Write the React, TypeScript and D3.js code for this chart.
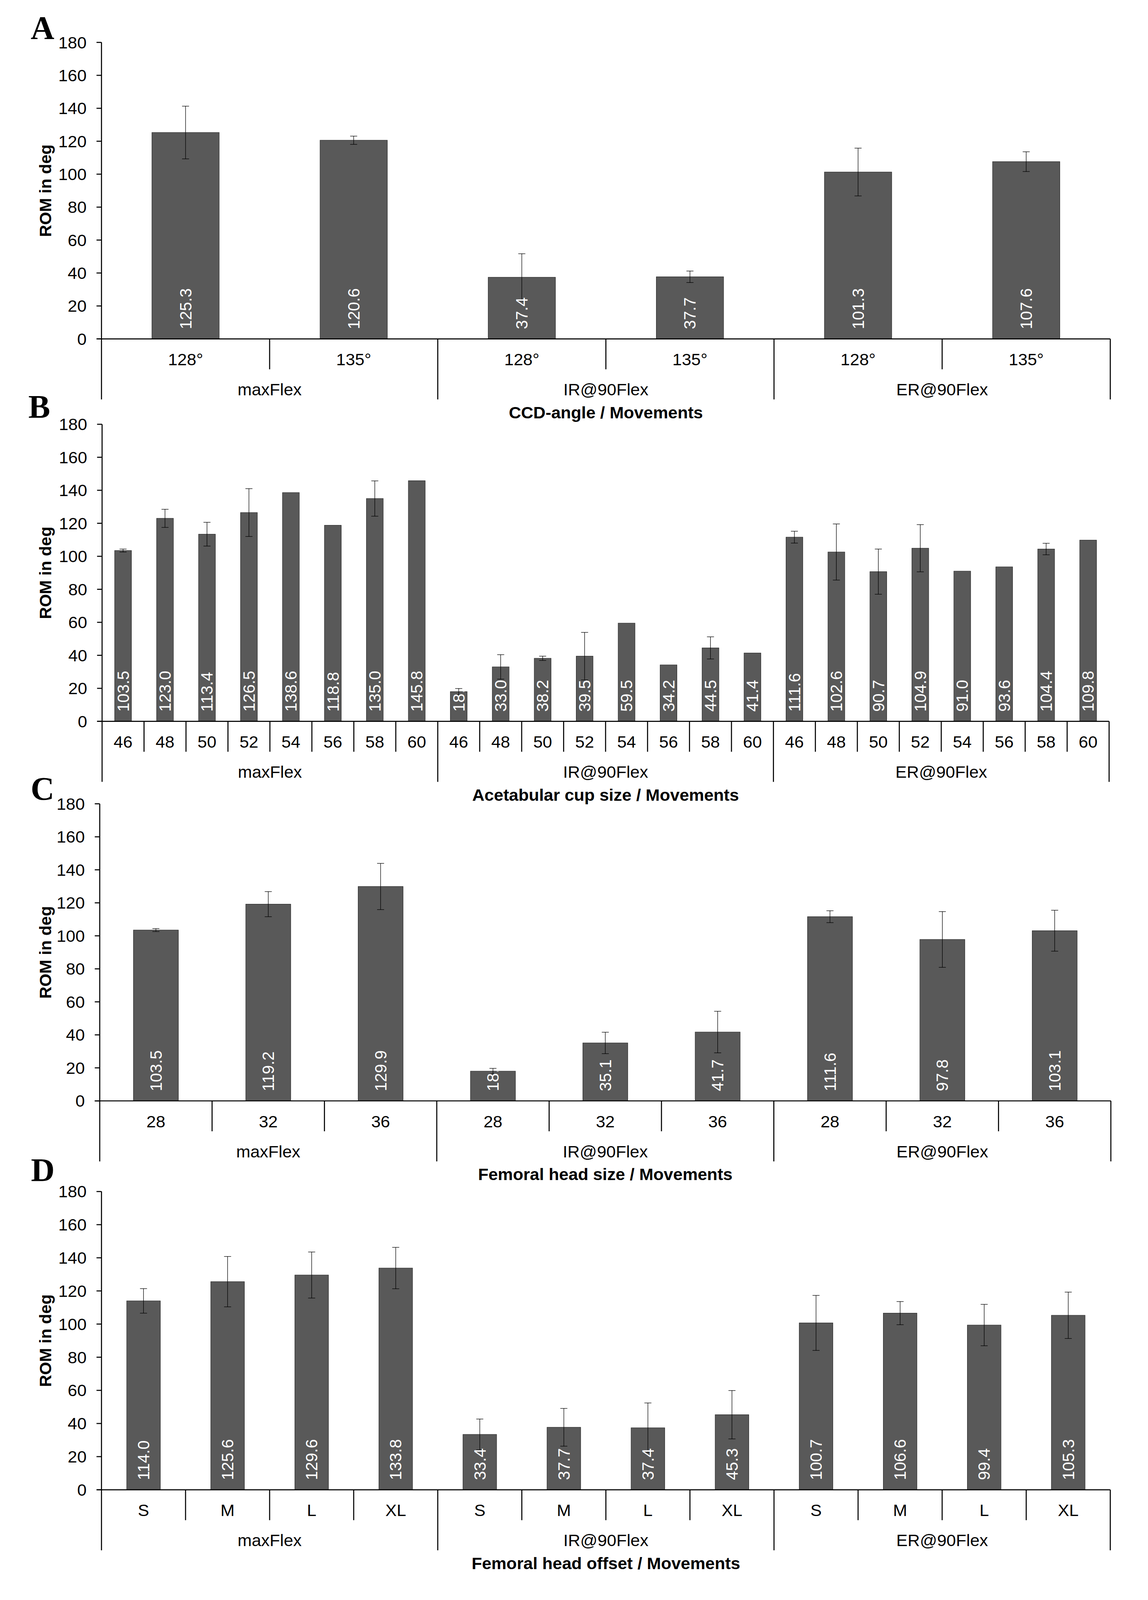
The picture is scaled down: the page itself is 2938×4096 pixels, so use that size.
import React from "react";
import * as d3 from "d3";

// shared
const groups = ["maxFlex", "IR@90Flex", "ER@90Flex"];
const yTicks = [0, 20, 40, 60, 80, 100, 120, 140, 160, 180];
const yTitle = "ROM in deg";

// A - CCD-angle
const ccdCats = ["128°", "135°"];
const ccdMean = [125.3, 120.6, 37.4, 37.7, 101.3, 107.6];
const ccdSd = [16.0, 2.5, 14.3, 3.5, 14.5, 6.0];

// B - acetabular cup size
const cupCats = ["46", "48", "50", "52", "54", "56", "58", "60"];
const cupMean = [
  103.5, 123.0, 113.4, 126.5, 138.6, 118.8, 135.0, 145.8,
  18.0, 33.0, 38.2, 39.5, 59.5, 34.2, 44.5, 41.4,
  111.6, 102.6, 90.7, 104.9, 91.0, 93.6, 104.4, 109.8,
];
const cupSd = [
  0.9, 5.5, 7.2, 14.5, null, null, 10.7, null,
  1.9, 7.4, 1.3, 14.4, null, null, 6.7, null,
  3.6, 17.0, 13.7, 14.3, null, null, 3.5, null,
];

// C - femoral head size
const headCats = ["28", "32", "36"];
const headMean = [103.5, 119.2, 129.9, 18.0, 35.1, 41.7, 111.6, 97.8, 103.1];
const headSd = [0.9, 7.6, 14.0, 1.7, 6.5, 12.6, 3.6, 16.9, 12.4];

// D - femoral head offset
const offsetCats = ["S", "M", "L", "XL"];
const offsetMean = [114.0, 125.6, 129.6, 133.8, 33.4, 37.7, 37.4, 45.3, 100.7, 106.6, 99.4, 105.3];
const offsetSd = [7.4, 15.2, 13.9, 12.5, 9.3, 11.4, 15.0, 14.6, 16.6, 7.0, 12.5, 14.0];

// layout, in reference pixels (svg viewBox is the full 3925x5472 reference)
const panels = [
  { letter: "A", title: "CCD-angle / Movements", cats: ccdCats, mean: ccdMean, sd: ccdSd, x0: 347, x1: 3796, top: 145, base: 1159, lx: 105, ly: 133 },
  { letter: "B", title: "Acetabular cup size / Movements", cats: cupCats, mean: cupMean, sd: cupSd, x0: 349, x1: 3792, top: 1451, base: 2467, lx: 97, ly: 1429 },
  { letter: "C", title: "Femoral head size / Movements", cats: headCats, mean: headMean, sd: headSd, x0: 341, x1: 3798, top: 2749, base: 3765, lx: 105, ly: 2736 },
  { letter: "D", title: "Femoral head offset / Movements", cats: offsetCats, mean: offsetMean, sd: offsetSd, x0: 347, x1: 3796, top: 4075, base: 5095, lx: 106, ly: 4040 },
];

const SANS = "'Liberation Sans', Arial, sans-serif";
const SERIF = "'Liberation Serif', 'Times New Roman', serif";
const fmt = d3.format(".1f");

function Panel({ p }) {
  const keys = [];
  groups.forEach((g) => p.cats.forEach((c) => keys.push(g + "|" + c)));
  const x = d3.scaleBand().domain(keys).range([p.x0, p.x1]).paddingInner(0.6).paddingOuter(0.3);
  const y = d3.scaleLinear().domain([0, 180]).range([p.base, p.top]);
  const step = x.step();
  const bw = x.bandwidth();
  const center = (k) => x(k) + bw / 2;
  const nc = p.cats.length;

  return (
    <g>
      <text x={p.lx} y={p.ly} fontFamily={SERIF} fontWeight="bold" fontSize={112}>{p.letter}</text>

      {/* y axis */}
      <line x1={p.x0} x2={p.x0} y1={p.top} y2={p.base + 207} stroke="#000" strokeWidth={3.6} />
      {yTicks.map((t) => (
        <g key={t}>
          <line x1={p.x0 - 17} x2={p.x0} y1={y(t)} y2={y(t)} stroke="#000" strokeWidth={3.6} />
          <text x={p.x0 - 51} y={y(t)} dy="0.35em" textAnchor="end" fontFamily={SANS} fontSize={58}>{t}</text>
        </g>
      ))}
      <text transform={`translate(155,${(p.top + p.base) / 2}) rotate(-90)`} dy="0.35em" textAnchor="middle"
        fontFamily={SANS} fontWeight="bold" fontSize={57}>{yTitle}</text>

      {/* bars */}
      {keys.map((k, i) => (
        <g key={k}>
          <clipPath id={`clip-${p.letter}-${i}`}>
            <rect x={x(k)} y={y(p.mean[i])} width={bw} height={p.base - y(p.mean[i])} />
          </clipPath>
          <rect x={x(k)} y={y(p.mean[i])} width={bw} height={p.base - y(p.mean[i])}
            fill="#595959" stroke="#2b2b2b" strokeWidth={1.6} />
        </g>
      ))}

      {/* error bars */}
      {keys.map((k, i) => {
        const s = p.sd[i];
        if (s == null) return null;
        const cx = center(k);
        const hi = y(p.mean[i] + s), lo = y(p.mean[i] - s);
        return (
          <g key={"e" + k} stroke="#000" strokeWidth={1.7}>
            <line x1={cx} x2={cx} y1={hi} y2={lo} />
            <line x1={cx - 12} x2={cx + 12} y1={hi} y2={hi} />
            <line x1={cx - 12} x2={cx + 12} y1={lo} y2={lo} />
          </g>
        );
      })}

      {/* value labels, clipped to their bar */}
      {keys.map((k, i) => (
        <g key={"v" + k} clipPath={`url(#clip-${p.letter}-${i})`}>
          <text transform={`translate(${center(k)},${p.base - 33}) rotate(-90)`} dy="0.35em" textAnchor="start"
            fill="#fff" fontFamily={SANS} fontSize={56}>{fmt(p.mean[i])}</text>
        </g>
      ))}

      {/* x axis */}
      <line x1={p.x0 - 17} x2={p.x1} y1={p.base} y2={p.base} stroke="#000" strokeWidth={3.6} />
      {keys.map((k, i) => {
        const left = x(k) - step * 0.3;
        const isGroupStart = i % nc === 0;
        return (
          <g key={"x" + k}>
            {i > 0 && (
              <line x1={left} x2={left} y1={p.base} y2={p.base + (isGroupStart ? 207 : 104)} stroke="#000" strokeWidth={3.6} />
            )}
            <text x={center(k)} y={p.base + 70} dy="0.35em" textAnchor="middle" fontFamily={SANS} fontSize={58}>
              {k.split("|")[1]}
            </text>
          </g>
        );
      })}
      <line x1={p.x1} x2={p.x1} y1={p.base} y2={p.base + 207} stroke="#000" strokeWidth={3.6} />
      {groups.map((g) => {
        const first = x(g + "|" + p.cats[0]) - step * 0.3;
        const last = x(g + "|" + p.cats[nc - 1]) + bw + step * 0.3;
        return (
          <text key={g} x={(first + last) / 2} y={p.base + 173} dy="0.35em" textAnchor="middle" fontFamily={SANS} fontSize={58}>
            {g}
          </text>
        );
      })}
      <text x={(p.x0 + p.x1) / 2} y={p.base + 251} dy="0.35em" textAnchor="middle" fontFamily={SANS} fontWeight="bold" fontSize={58}>
        {p.title}
      </text>
    </g>
  );
}

export default function App() {
  return (
    <svg width={2938} height={4096} viewBox="0 0 3925 5472" style={{ position: "absolute", left: 0, top: 0 }}>
      <rect x={0} y={0} width={3925} height={5472} fill="#fff" />
      {panels.map((p) => (
        <Panel key={p.letter} p={p} />
      ))}
    </svg>
  );
}
